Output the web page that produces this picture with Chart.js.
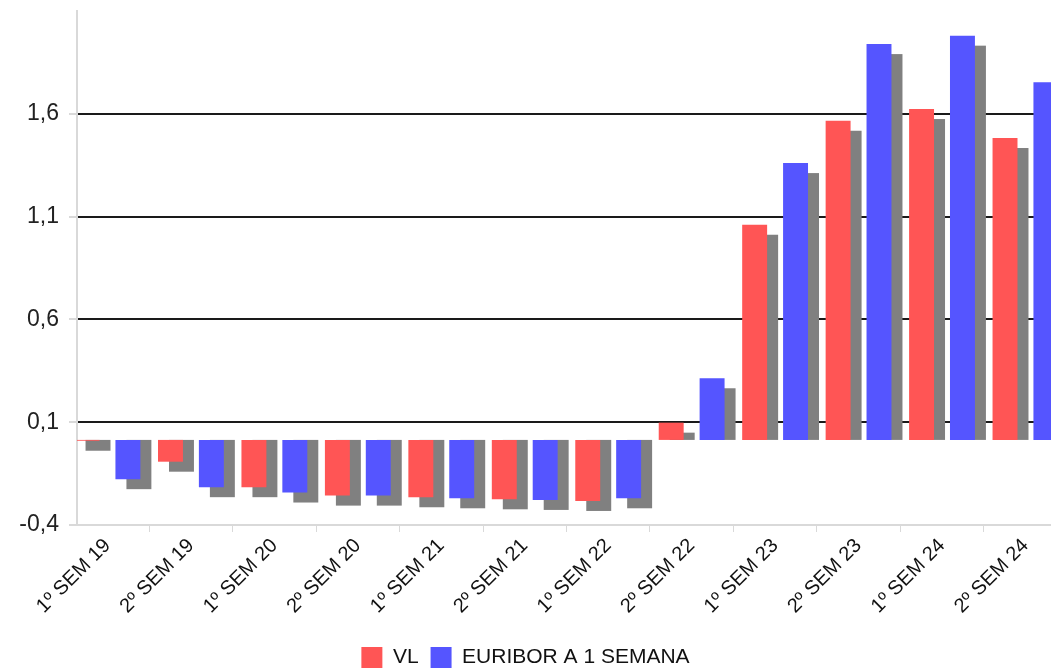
<!DOCTYPE html>
<html>
<head>
<meta charset="utf-8">
<script src="https://cdn.jsdelivr.net/npm/chart.js@4.4.1/dist/chart.umd.min.js"></script>
<style>
    html, body { margin: 0; padding: 0; background: #fff; overflow: hidden; }
    #wrap { width: 1051px; height: 669px; overflow: hidden; }
    #box { position: relative; width: 1051px; height: 678px; }
</style>
</head>
<body>
<div id="wrap"><div id="box"><canvas id="grafico"></canvas></div></div>
<script>
// Semestres e valores
const semestres = ['1º SEM 19', '2º SEM 19', '1º SEM 20', '2º SEM 20', '1º SEM 21', '2º SEM 21',
                   '1º SEM 22', '2º SEM 22', '1º SEM 23', '2º SEM 23', '1º SEM 24', '2º SEM 24'];
const valoresVL = [-0.004, -0.106, -0.230, -0.271, -0.279, -0.289, -0.297, 0.084, 1.047, 1.553, 1.610, 1.469];
const valoresEuribor = [-0.191, -0.230, -0.256, -0.271, -0.284, -0.292, -0.284, 0.300, 1.347, 1.926, 1.967, 1.740];
const yTickValues = [-0.414, 0.086, 0.586, 1.086, 1.586];
const yTickLabels = ['-0,4', '0,1', '0,6', '1,1', '1,6'];

const fonte = "'Liberation Sans', Arial, sans-serif";
const cinzaEixo = '#d9d9d9';

// Sombra cinzenta deslocada por trás de cada barra
const sombraBarras = {
    id: 'sombraBarras',
    beforeDatasetsDraw(chart) {
        const ctx = chart.ctx;
        const area = chart.chartArea;
        ctx.save();
        ctx.beginPath();
        ctx.rect(area.left, area.top, area.right - area.left, area.bottom - area.top);
        ctx.clip();
        ctx.fillStyle = '#808080';
        chart.data.datasets.forEach((ds, i) => {
            chart.getDatasetMeta(i).data.forEach(bar => {
                const p = bar.getProps(['x', 'y', 'base', 'width'], true);
                const positivo = p.y < p.base;
                const topo = positivo ? p.y + 10 : p.base;
                const fundo = positivo ? p.base : p.y + 10;
                if (fundo > topo) ctx.fillRect(p.x - p.width / 2 + 11, topo, p.width, fundo - topo);
            });
        });
        ctx.restore();
    }
};

document.addEventListener('DOMContentLoaded', function () {
    const ctx = document.getElementById('grafico').getContext('2d');
    new Chart(ctx, {
        type: 'bar',
        data: {
            datasets: [
                {
                    label: 'VL',
                    data: valoresVL.map((v, i) => ({ x: i, y: v })),
                    backgroundColor: '#ff5555',
                    borderWidth: 0,
                    barPercentage: 0.61,
                    categoryPercentage: 0.98
                },
                {
                    label: 'EURIBOR A 1 SEMANA',
                    data: valoresEuribor.map((v, i) => ({ x: i, y: v })),
                    backgroundColor: '#5555ff',
                    borderWidth: 0,
                    barPercentage: 0.61,
                    categoryPercentage: 0.98
                }
            ]
        },
        options: {
            responsive: true,
            maintainAspectRatio: false,
            animation: false,
            layout: { padding: { top: 11, left: 0, right: 0, bottom: 0 } },
            plugins: {
                legend: {
                    position: 'bottom',
                    labels: {
                        boxWidth: 21,
                        boxHeight: 21,
                        padding: 12,
                        color: '#111',
                        font: { family: fonte, size: 21 }
                    }
                },
                tooltip: { enabled: true }
            },
            scales: {
                x: {
                    type: 'linear',
                    min: -0.365,
                    max: 11.306,
                    offset: false,
                    afterBuildTicks: s => { s.ticks = semestres.map((_, i) => ({ value: i })); },
                    afterFit: s => { s.height = 110; s.paddingLeft = 0; s.paddingRight = 0; },
                    ticks: {
                        autoSkip: false,
                        minRotation: 45,
                        maxRotation: 45,
                        padding: 2,
                        color: '#111',
                        font: { family: fonte, size: 20 },
                        callback: (v, i) => semestres[i]
                    },
                    grid: { drawOnChartArea: false, drawTicks: true, tickLength: 7, color: cinzaEixo },
                    border: { color: cinzaEixo, width: 2 }
                },
                y: {
                    min: -0.414,
                    max: 2.087,
                    afterBuildTicks: s => { s.ticks = yTickValues.map(v => ({ value: v })); },
                    afterFit: s => { s.width = 77; s.paddingTop = 0; s.paddingBottom = 0; },
                    ticks: {
                        padding: 10,
                        color: '#222',
                        font: { family: fonte, size: 23 },
                        callback: (v, i) => yTickLabels[i]
                    },
                    grid: {
                        color: c => c.index === 0 ? 'rgba(0,0,0,0)' : '#1a1a1a',
                        lineWidth: 2,
                        tickColor: cinzaEixo,
                        tickLength: 8
                    },
                    border: { color: cinzaEixo, width: 2 }
                }
            }
        },
        plugins: [sombraBarras]
    });
});
</script>
</body>
</html>
